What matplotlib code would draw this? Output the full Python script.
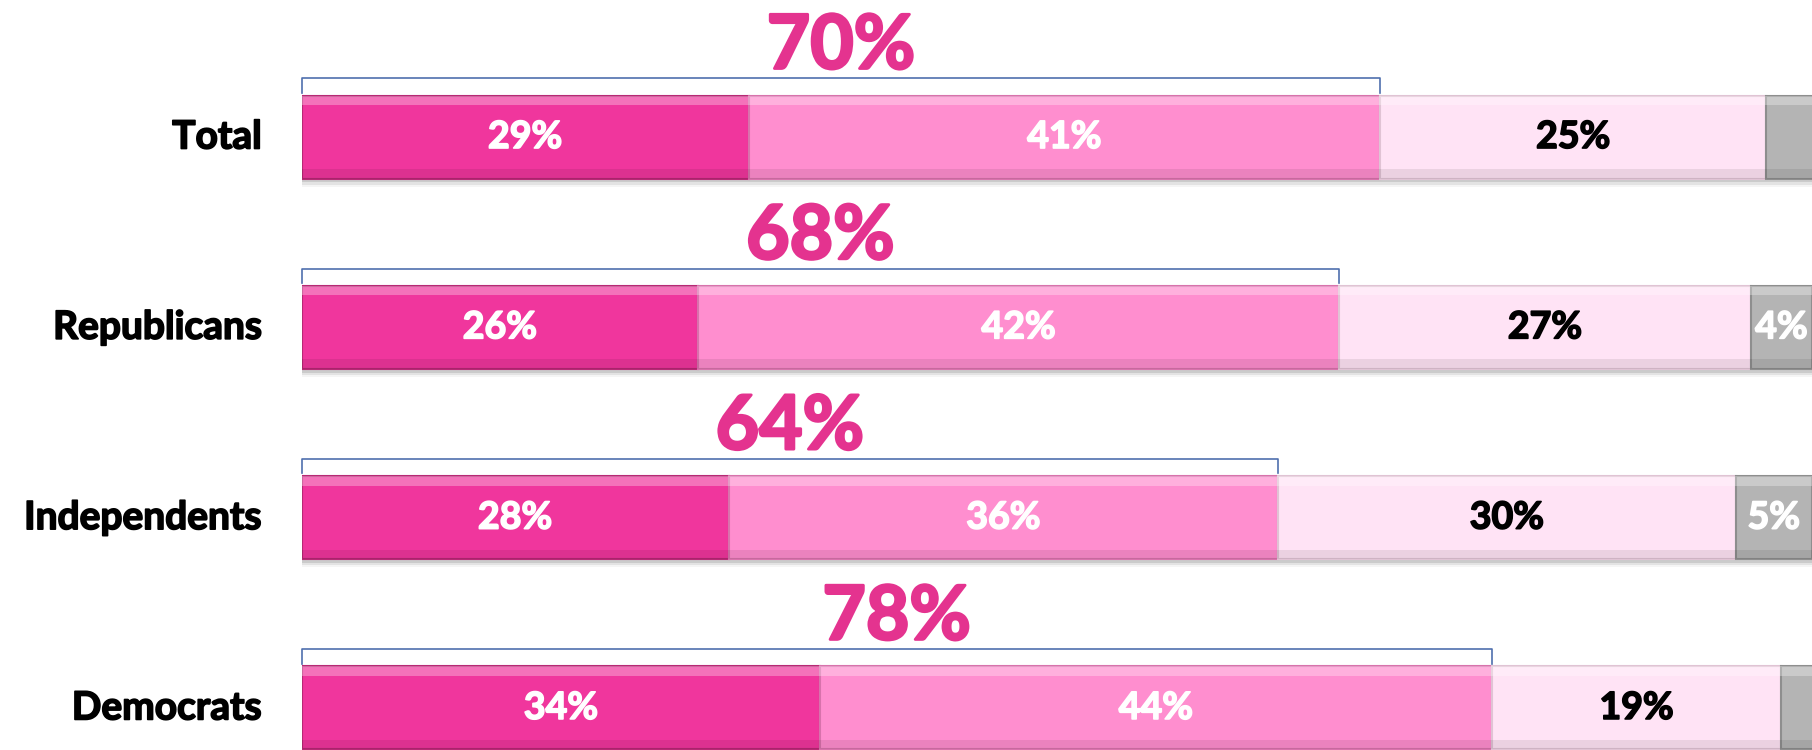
import matplotlib.pyplot as plt
import matplotlib.patheffects as pe
import numpy as np

# data
groups = ['Total', 'Republicans', 'Independents', 'Democrats']
seg1 = [29.3, 26, 28, 34]
seg2 = [41.4, 42, 36, 44]
seg3 = [25.3, 27, 30, 19]
seg4 = [5, 4, 5, 3]
seg1_labels = ['29%', '26%', '28%', '34%']
seg2_labels = ['41%', '42%', '36%', '44%']
seg3_labels = ['25%', '27%', '30%', '19%']
seg4_labels = ['', '4%', '5%', '']
combined_labels = ['70%', '68%', '64%', '78%']

colors = ['#F0369D', '#FF8ECF', '#FFE3F5', '#B4B4B4']
edges = ['#B82875', '#D872AC', '#E0C3D4', '#8E8E8E']
text_colors = ['white', 'white', 'black', 'white']
big_color = '#E4338F'
font = 'Lato'

fig = plt.figure(figsize=(18.12, 7.5), dpi=100)
ax = fig.add_axes([301.6 / 1812, 0, 1 - 301.6 / 1812, 1])

y = np.arange(len(groups))
h = 0.436
segs = [seg1, seg2, seg3, seg4]
labels = [seg1_labels, seg2_labels, seg3_labels, seg4_labels]
left = np.zeros(len(groups))

# shadow under bars
total = np.sum(segs, axis=0)
for k, a in enumerate([0.10, 0.07, 0.04]):
    ax.barh(y + 0.02 + k * 0.012, total, height=h, left=0, color='black',
            alpha=a, linewidth=0, zorder=1)

for i, s in enumerate(segs):
    s = np.array(s, dtype=float)
    ax.barh(y, s, height=h, left=left, color=colors[i], edgecolor=edges[i],
            linewidth=1.5, zorder=2)
    # top highlight / bottom shade for a slight bevel
    ax.barh(y - h / 2 + 0.025, s, height=0.05, left=left, color='white',
            alpha=0.3, linewidth=0, zorder=3)
    ax.barh(y + h / 2 - 0.025, s, height=0.05, left=left, color='black',
            alpha=0.08, linewidth=0, zorder=3)
    for j in range(len(groups)):
        ax.text(left[j] + s[j] / 2, y[j], labels[i][j], ha='center',
                va='center', color=text_colors[i], fontsize=27,
                fontweight='bold', family=font, zorder=4,
                path_effects=[pe.withStroke(linewidth=1.2,
                                            foreground=text_colors[i])])
    left += s

# brackets and combined labels
for j in range(len(groups)):
    end = seg1[j] + seg2[j]
    top = y[j] - h / 2
    yb = top - 0.09
    yt = top - 0.015
    ax.plot([0, 0, end, end], [yt, yb, yb, yt],
            color='#4F6FAE', linewidth=1.2, zorder=4, clip_on=False)
    ax.text(end / 2, y[j] - 0.36, combined_labels[j], ha='center',
            va='baseline', color=big_color, fontsize=54, fontweight='bold',
            family=font, zorder=4,
            path_effects=[pe.withStroke(linewidth=2, foreground=big_color)])

# category labels
for j, g in enumerate(groups):
    ax.text(-40 / 15.25, y[j], g, ha='right', va='center', fontsize=28,
            fontweight='bold', family=font, color='black', clip_on=False,
            path_effects=[pe.withStroke(linewidth=1.2, foreground='black')])

ax.set_xlim(0, 99)
ax.set_ylim(3.221, -0.72)
ax.axis('off')

plt.savefig('out.png', dpi=100)
